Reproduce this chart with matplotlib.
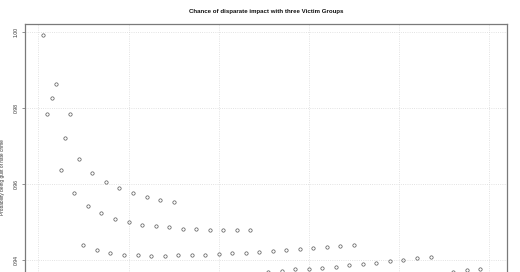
import matplotlib
matplotlib.use("Agg")
import matplotlib.pyplot as plt

# Group size n and the probability of a guilty finding for each n
n_values = [1, 2, 3, 4, 5, 6, 7, 8, 9, 10, 11, 12, 13, 14, 15, 16, 17, 18, 19,
            20, 21, 22, 23, 24, 25, 26, 27, 28, 29, 30, 31, 32, 34, 35, 37, 38,
            40, 41, 43, 44, 46, 47, 49, 51, 52, 54, 55, 57, 58, 60, 61, 63, 64,
            66, 67, 69, 70, 72, 75, 78, 81, 84, 87, 92, 95, 98]
prob_guilty = [0.9992, 0.9783, 0.9826, 0.9864, 0.9636, 0.9720, 0.9785, 0.9576,
               0.9665, 0.9439, 0.9542, 0.9630, 0.9426, 0.9523, 0.9605, 0.9418,
               0.9509, 0.9589, 0.9413, 0.9499, 0.9576, 0.9412, 0.9493, 0.9565,
               0.9411, 0.9489, 0.9558, 0.9411, 0.9486, 0.9552, 0.9412, 0.9482,
               0.9412, 0.9481, 0.9413, 0.9480, 0.9415, 0.9479, 0.9418, 0.9479,
               0.9419, 0.9479, 0.9422, 0.9369, 0.9424, 0.9372, 0.9426, 0.9375,
               0.9429, 0.9377, 0.9432, 0.9380, 0.9433, 0.9382, 0.9437, 0.9386,
               0.9439, 0.9390, 0.9393, 0.9397, 0.9401, 0.9405, 0.9407, 0.9369,
               0.9373, 0.9376]

x_ticks = [0, 20, 40, 60, 80, 100]
y_ticks = [0.94, 0.96, 0.98, 1.00]
y_tick_labels = ["0.94", "0.96", "0.98", "1.00"]

title_text = "Chance of disparate impact with three Victim Groups"
ylabel_text = "Probability being guilt of hate crime"

plt.rcParams["font.family"] = ["Liberation Sans", "DejaVu Sans"]

W, H = 520, 272
fig = plt.figure(figsize=(W / 100, H / 100), dpi=100)
fig.patch.set_facecolor("white")

# plot region in pixels: left 25, right 507, top 24, bottom 321 (runs past the canvas)
left, right, top, bottom = 25, 507, 24, 321
ax = fig.add_axes([left / W, (H - bottom) / H, (right - left) / W, (bottom - top) / H])

ax.set_xlim(-2.96, 103.96)
ax.set_ylim(0.923947, 1.0021053)

ax.set_xticks(x_ticks)
ax.tick_params(axis="x", labelbottom=False, length=0)
ax.set_yticks(y_ticks)
ax.set_yticklabels(y_tick_labels, rotation=90, va="center", fontsize=3.7,
                   color="#333333")
ax.tick_params(axis="y", direction="out", length=2.0, width=0.5,
               color="#666666", pad=2.3)

ax.grid(True, color="#d9d9d9", linestyle=":", linewidth=0.6)
ax.set_axisbelow(True)

for side in ax.spines.values():
    side.set_color("#7a7a7a")
    side.set_linewidth(0.9)

ax.plot(n_values, prob_guilty, linestyle="none", marker="o",
        markerfacecolor="none", markeredgecolor="#555555",
        markersize=2.4, markeredgewidth=0.5)

ax.set_ylabel(ylabel_text, fontsize=3.4, color="#333333")
ax.yaxis.set_label_coords(-20 / (right - left), (bottom - 177) / (bottom - top))

fig.text((left + right) / 2 / W, 1 - 12 / H, title_text, ha="center",
         va="center", fontsize=4.4, fontweight="bold", color="#111111")

fig.savefig("out.png", dpi=100, facecolor="white")
